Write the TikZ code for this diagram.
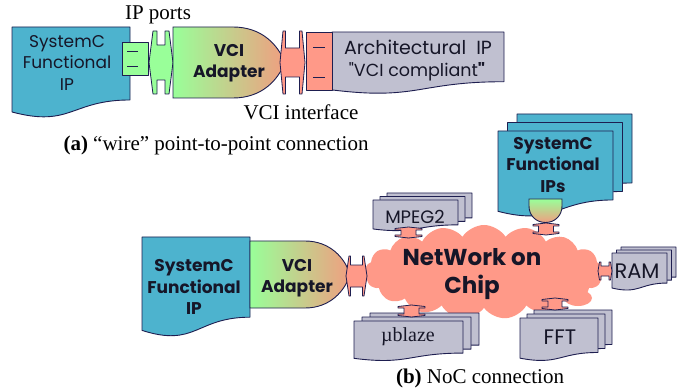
\documentclass[tikz,border=0pt]{standalone}
\usepackage{fontspec}
\setmainfont{Liberation Serif}
\newfontfamily\gothic{Poppins}
\usetikzlibrary{shapes.symbols}
\definecolor{tealbox}{RGB}{77,179,206}
\definecolor{pgreen}{RGB}{153,255,153}
\definecolor{psalmon}{RGB}{255,153,136}
\definecolor{pgray}{RGB}{192,192,208}
\definecolor{navyline}{RGB}{30,30,80}
\definecolor{ink}{RGB}{22,22,40}
\definecolor{adright}{RGB}{240,158,128}
% document shape: style, left, top, right, height
\newcommand\docshape[5]{\path[#1] (#2,#3) -- (#4,#3) -- (#4,{#3+0.802*(#5)}) .. controls ({(#2+#4)/2},{#3+0.802*(#5)}) and ({(#2+#4)/2},{#3+1.107*(#5)}) .. (#2,{#3+0.934*(#5)}) -- cycle;}
% stack of three documents: style, l, t, r, h, dx, dy
\newcommand\docstack[7]{%
  \docshape{#1}{#2+2*#6}{#3+2*#7}{#4+2*#6}{#5}
  \docshape{#1}{#2+#6}{#3+#7}{#4+#6}{#5}
  \docshape{#1}{#2}{#3}{#4}{#5}}
% horizontal connector: style, L, R, T, B, a, b, d
\newcommand\hconn[8]{\path[#1] ({#2+#6},#4) -- (#2,{(#4+#5)/2}) -- ({#2+#6},#5) -- ({#2+#7},#5) -- ({#2+#7},{#5-#8}) -- ({#3-#7},{#5-#8}) -- ({#3-#7},#5) -- ({#3-#6},#5) -- (#3,{(#4+#5)/2}) -- ({#3-#6},#4) -- ({#3-#7},#4) -- ({#3-#7},{#4+#8}) -- ({#2+#7},{#4+#8}) -- ({#2+#7},#4) -- cycle;}
% vertical connector: style, T, B, L, R, a, b, d
\newcommand\vconn[8]{\path[#1] (#4,{#2+#6}) -- ({(#4+#5)/2},#2) -- (#5,{#2+#6}) -- (#5,{#2+#7}) -- ({#5-#8},{#2+#7}) -- ({#5-#8},{#3-#7}) -- (#5,{#3-#7}) -- (#5,{#3-#6}) -- ({(#4+#5)/2},#3) -- (#4,{#3-#6}) -- (#4,{#3-#7}) -- ({#4+#8},{#3-#7}) -- ({#4+#8},{#2+#7}) -- (#4,{#2+#7}) -- cycle;}
\tikzset{
  box/.style={draw=navyline, line width=0.9pt, line join=round},
  tealdoc/.style={box, fill=tealbox},
  graydoc/.style={box, fill=pgray},
  conng/.style={draw=navyline, line width=0.8pt, fill=pgreen, line join=round},
  conns/.style={draw=navyline, line width=0.8pt, fill=psalmon, line join=round},
  gtxt/.style={font=\gothic\fontsize{#1pt}{\dimexpr #1pt*5/4\relax}\selectfont, text=ink, align=center, inner sep=0pt},
  gbold/.style={font=\gothic\bfseries\fontsize{#1pt}{\dimexpr #1pt*5/4\relax}\selectfont, text=ink, align=center, inner sep=0pt},
  serif/.style={font=\fontsize{#1pt}{\dimexpr #1pt*5/4\relax}\selectfont, text=black, align=center, inner sep=0pt},
  dashmark/.style={draw=navyline, line width=0.8pt}
}
\begin{document}
\begin{tikzpicture}[x=1pt, y=-1pt]
\useasboundingbox (0,0) rectangle (680,390);
\fill[white] (0,0) rectangle (680,390);

% ---------------- (a) ----------------
\docshape{tealdoc}{12}{27}{130}{91}
\node[gtxt=17] (sysA) at (67,63) {SystemC\\Functional\\IP};

\path[box, fill=pgreen] (122,42) rectangle (148,75);
\draw[dashmark] (127,51) -- (138,51);
\draw[dashmark] (127,66) -- (138,66);
\hconn{conng}{149}{173}{31}{94}{4}{8}{14}

\shade[left color=pgreen, right color=adright, draw=navyline, line width=0.9pt]
  (173,27) -- (233,27) .. controls (262,27) and (278,45) .. (285,62.5)
  .. controls (278,80) and (262,98) .. (233,98) -- (173,98) -- cycle;
\node[gbold=17] (vciA) at (229,63.5) {VCI\\Adapter};

\hconn{conns}{280}{305}{31}{94}{3}{5.5}{17}

\docshape{graydoc}{332}{32}{504}{62}
\path[box, fill=psalmon] (306,32) rectangle (332,90);
\draw[dashmark] (313,47) -- (325,47);
\draw[dashmark] (313,77) -- (325,77);
\node[gtxt=19] (arch) at (418,47) {Architectural\ \ IP};
\node[gtxt=17.5] (vcic) at (417,72) {"VCI compliant\textbf{"}};

\node[serif=21] (ipports) at (158,15) {IP ports};
\node[serif=21] (vciif) at (301,112) {VCI interface};
\node[serif=21] (capa) at (216,145) {\textbf{(a)} “wire” point-to-point connection};

% ---------------- (b) ----------------
\node[cloud, cloud puffs=17, cloud puff arc=115, aspect=2.6, minimum width=238pt, minimum height=94pt, fill=psalmon, inner sep=0pt] (noc) at (484,272) {};
\fill[psalmon] (578,298) ellipse [x radius=14pt, y radius=8pt];

\docshape{tealdoc}{142}{237}{250}{100}
\node[gbold=17] (sysB) at (194,287) {SystemC\\Functional\\IP};

\shade[left color=pgreen, right color=adright, draw=navyline, line width=0.9pt]
  (250,241) -- (305,241) .. controls (330,241) and (345,258) .. (350,274.5)
  .. controls (345,291) and (330,308) .. (305,308) -- (250,308) -- cycle;
\node[gbold=17] (vciB) at (297,278) {VCI\\Adapter};

\hconn{conns}{346}{367}{256}{296}{3}{4.5}{9}

% MPEG2
\docstack{graydoc}{373}{200}{458}{31}{7}{-3.5}
\node[gtxt=18] (mpeg) at (415,217) {MPEG2};
\vconn{conns}{227}{238}{395}{422}{1.5}{3}{6}

% SystemC Functional IPs
\docstack{tealdoc}{498}{131}{613}{86}{9.5}{-8.5}
\node[gbold=17] (sysIPs) at (553,165) {SystemC\\Functional\\IPs};
\shade[top color=pgreen, bottom color=adright, draw=navyline, line width=0.9pt]
  (529,199) -- (562,199) -- (562,206) .. controls (562,215.5) and (555,222.5) .. (545.5,222.5)
  .. controls (536,222.5) and (529,215.5) .. (529,206) -- cycle;
\vconn{conns}{223}{235}{533}{559}{1.5}{3}{5.5}

% RAM
\docstack{graydoc}{612}{253}{667}{37.5}{4.5}{-3}
\node[gtxt=21] (ram) at (637,271) {RAM};
\hconn{conns}{598}{612}{262}{280}{1.5}{3}{4}

% FFT
\docstack{graydoc}{520}{318}{598}{43}{7}{-4}
\node[gtxt=21] (fft) at (560,337) {FFT};
\vconn{conns}{298}{310}{542}{568}{1.5}{3}{6}

% ublaze
\docstack{graydoc}{354}{321}{463}{40}{8}{-4}
\node[serif=20, text=ink] (ublaze) at (408,337) {µblaze};
\vconn{conns}{305}{317}{398}{425}{1.5}{3}{6}

\node[gbold=23] (noctext) at (472,274) {NetWork on\\Chip};

\node[serif=21] (capb) at (480,378) {\textbf{(b)} NoC connection};
\end{tikzpicture}
\end{document}
